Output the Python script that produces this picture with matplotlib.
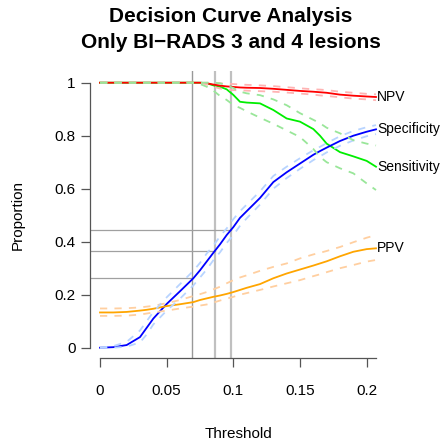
import matplotlib
matplotlib.use("Agg")
import matplotlib.pyplot as plt

plt.rcParams['font.family'] = ['Liberation Sans', 'DejaVu Sans']

thresholds = [0, 0.01, 0.02, 0.03, 0.035, 0.04, 0.05, 0.06, 0.07, 0.075, 0.08, 0.085,
              0.09, 0.095, 0.1, 0.105, 0.11, 0.12, 0.13, 0.14, 0.15, 0.16, 0.165, 0.17,
              0.18, 0.19, 0.2, 0.207]

npv = [1, 1, 1, 1, 1, 1, 1, 1, 1, 1, 0.998, 0.993, 0.989, 0.986, 0.984, 0.982, 0.981,
       0.98, 0.977, 0.973, 0.969, 0.966, 0.964, 0.962, 0.955, 0.951, 0.948, 0.946]
npv_upper = [1, 1, 1, 1, 1, 1, 1, 1, 1, 1, 1, 1, 0.998, 0.996, 0.995, 0.993, 0.992,
             0.99, 0.987, 0.983, 0.979, 0.975, 0.974, 0.972, 0.966, 0.962, 0.958, 0.956]
npv_lower = [1, 1, 1, 1, 1, 1, 1, 1, 1, 1, 0.993, 0.985, 0.978, 0.975, 0.972, 0.971, 0.97,
             0.968, 0.966, 0.963, 0.959, 0.955, 0.952, 0.95, 0.945, 0.94, 0.937, 0.934]

sensitivity = [1, 1, 1, 1, 1, 1, 1, 1, 1, 1, 0.998, 0.99, 0.985, 0.975, 0.954, 0.928, 0.925,
               0.922, 0.897, 0.865, 0.853, 0.825, 0.8, 0.77, 0.738, 0.722, 0.705, 0.683]
sens_upper = [1, 1, 1, 1, 1, 1, 1, 1, 1, 1, 1, 1, 0.998, 0.99, 0.98, 0.966, 0.96,
              0.953, 0.937, 0.915, 0.885, 0.86, 0.847, 0.83, 0.809, 0.783, 0.77, 0.763]
sens_lower = [1, 1, 1, 1, 1, 1, 1, 1, 1, 0.995, 0.985, 0.97, 0.95, 0.935, 0.916, 0.905, 0.892,
              0.868, 0.845, 0.82, 0.795, 0.75, 0.72, 0.7, 0.677, 0.658, 0.62, 0.595]

specificity = [0, 0.002, 0.01, 0.04, 0.075, 0.11, 0.165, 0.213, 0.262, 0.292, 0.325, 0.358,
               0.39, 0.425, 0.455, 0.49, 0.515, 0.565, 0.625, 0.662, 0.695, 0.728, 0.742,
               0.755, 0.78, 0.8, 0.815, 0.824]
spec_upper = [0, 0.006, 0.022, 0.065, 0.1, 0.135, 0.19, 0.24, 0.29, 0.32, 0.355, 0.385, 0.42,
              0.45, 0.485, 0.515, 0.54, 0.59, 0.648, 0.683, 0.715, 0.745, 0.758, 0.772,
              0.798, 0.818, 0.832, 0.84]
spec_lower = [0, 0, 0.004, 0.02, 0.05, 0.088, 0.14, 0.185, 0.235, 0.265, 0.295, 0.33, 0.36,
              0.395, 0.425, 0.46, 0.488, 0.54, 0.6, 0.64, 0.675, 0.708, 0.722, 0.737,
              0.762, 0.782, 0.798, 0.806]

ppv = [0.133, 0.133, 0.135, 0.14, 0.143, 0.147, 0.157, 0.164, 0.172, 0.18, 0.186, 0.192,
       0.197, 0.203, 0.21, 0.218, 0.226, 0.24, 0.262, 0.28, 0.295, 0.31, 0.318, 0.326,
       0.345, 0.362, 0.372, 0.375]
ppv_upper = [0.148, 0.148, 0.149, 0.152, 0.155, 0.158, 0.168, 0.18, 0.195, 0.202, 0.21, 0.22,
             0.23, 0.243, 0.255, 0.265, 0.273, 0.29, 0.305, 0.318, 0.337, 0.352, 0.358,
             0.365, 0.38, 0.398, 0.415, 0.425]
ppv_lower = [0.12, 0.12, 0.121, 0.125, 0.129, 0.133, 0.14, 0.148, 0.155, 0.159, 0.163, 0.17,
             0.178, 0.185, 0.192, 0.2, 0.206, 0.218, 0.231, 0.243, 0.255, 0.27, 0.277, 0.285,
             0.3, 0.312, 0.325, 0.331]

cut_thresholds = [0.0692, 0.0863, 0.0983]
cut_specificity = [0.262, 0.365, 0.443]

series = [
    ("Sensitivity", sensitivity, sens_upper, sens_lower, "#00EE00", "#99E699"),
    ("Specificity", specificity, spec_upper, spec_lower, "#0000FF", "#B8D4FF"),
    ("PPV", ppv, ppv_upper, ppv_lower, "#FFA500", "#FFCFA0"),
    ("NPV", npv, npv_upper, npv_lower, "#FF0000", "#FFB3B3"),
]

fig = plt.figure(figsize=(4.45, 4.44), dpi=100)
W, H = 445, 444
x0, x1 = -0.0075, 0.2155
y0, y1 = -0.04, 1.045
pxx = lambda v: 100 + 1333.3 * v
pxy = lambda v: 347.7 - 265.0 * v
left = pxx(x0) / W
right = pxx(x1) / W
bottom = 1 - pxy(y0) / H
top = 1 - pxy(y1) / H
ax = fig.add_axes([left, bottom, right - left, top - bottom])
ax.set_xlim(x0, x1)
ax.set_ylim(y0, y1)

vcols = ["#999999", "#C0C0C0", "#C0C0C0"]
vlw = [1.0, 1.6, 1.6]
for t, s, c, lw in zip(cut_thresholds, cut_specificity, vcols, vlw):
    ax.axvline(t, color=c, lw=lw, zorder=1)
    ax.plot([x0, t], [s, s], color="#A0A0A0", lw=0.9, zorder=1)

for name, y, up, lo, col, ccol in series:
    ax.plot(thresholds, y, color=col, lw=1.3, zorder=3)
for name, y, up, lo, col, ccol in reversed(series):
    ax.plot(thresholds, up, color=ccol, lw=1.3, ls=(0, (4, 4)), zorder=4)
    ax.plot(thresholds, lo, color=ccol, lw=1.3, ls=(0, (4, 4)), zorder=4)

for name, y, up, lo, col, ccol in series:
    ax.text(thresholds[-1] + 0.0008, y[-1], name, fontsize=10, va="center", ha="left",
            color="black", clip_on=False)

for sp in ["top", "right"]:
    ax.spines[sp].set_visible(False)
ax.spines["left"].set_bounds(0, 1)
ax.spines["bottom"].set_bounds(0, 0.207)
for sp in ["left", "bottom"]:
    ax.spines[sp].set_color("#555555")
    ax.spines[sp].set_linewidth(0.9)

ax.set_xticks([0, 0.05, 0.1, 0.15, 0.2])
ax.set_xticklabels(["0", "0.05", "0.1", "0.15", "0.2"])
ax.set_yticks([0, 0.2, 0.4, 0.6, 0.8, 1])
ax.set_yticklabels(["0", "0.2", "0.4", "0.6", "0.8", "1"])
ax.tick_params(axis="both", direction="out", length=6.5, width=0.9, color="#555555",
               labelsize=11, pad=12)
ax.tick_params(axis="y", pad=4)

ax.set_xlabel("Threshold", fontsize=11, labelpad=21)
ax.set_ylabel("Proportion", fontsize=11, labelpad=21)

fig.text(231 / W, 1 - 17 / H, "Decision Curve Analysis", fontsize=15, fontweight="bold",
         ha="center", va="center")
fig.text(231 / W, 1 - 42 / H, "Only BI\u2212RADS 3 and 4 lesions", fontsize=15,
         fontweight="bold", ha="center", va="center")

fig.savefig("out.png", dpi=100)
